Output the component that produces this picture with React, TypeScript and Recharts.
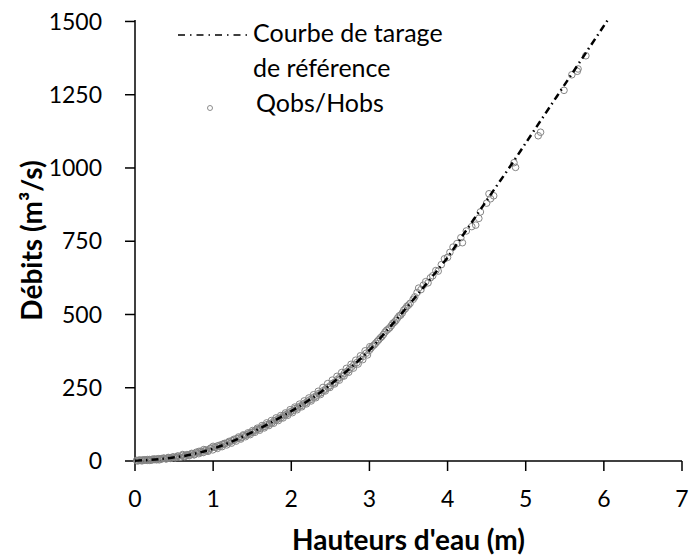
import { ComposedChart, Legend, Line, Scatter, XAxis, YAxis } from "recharts";

const xTicks = [0, 1, 2, 3, 4, 5, 6, 7];
const yTicks = [0, 250, 500, 750, 1000, 1250, 1500];

// reference rating curve (water height m -> discharge m3/s)
const curveH = [0, 0.2, 0.4, 0.6, 0.8, 1.0, 1.2, 1.4, 1.6, 1.8, 2.0, 2.2, 2.4, 2.6, 2.8, 3.0, 3.2, 3.4, 3.6, 3.8, 4.0, 4.2, 4.4, 4.6, 4.8, 5.0, 5.2, 5.4, 5.6, 5.8, 6.05];
const curveQ = [1, 4, 9, 16, 27, 42, 62, 86, 112, 140, 170, 203, 240, 282, 328, 378, 438, 500, 563, 628, 695, 772, 850, 928, 1005, 1085, 1165, 1245, 1325, 1405, 1505];

// gauged points Qobs/Hobs, [h, q]
const observations: [number, number][] = [
    [0.02, 2], [0.05, 3], [0.08, 1], [0.1, 4], [0.13, 3], [0.16, 5], [0.19, 2], [0.22, 6], [0.25, 5], [0.28, 7],
    [0.31, 4], [0.34, 8], [0.37, 9], [0.4, 7], [0.43, 11], [0.46, 10], [0.49, 13], [0.52, 12], [0.55, 16], [0.58, 13],
    [0.61, 22], [0.64, 17], [0.67, 19], [0.7, 21], [0.73, 24], [0.76, 22], [0.79, 27], [0.82, 33], [0.85, 29], [0.88, 39],
    [0.91, 35], [0.94, 37], [0.97, 44], [1.0, 50], [1.03, 46], [1.06, 52], [1.09, 50], [1.12, 57], [1.15, 59], [1.18, 62],
    [1.21, 64], [1.24, 69], [1.27, 71], [1.3, 76], [1.33, 78], [1.36, 80], [1.39, 86], [1.42, 88], [1.45, 92], [1.48, 96],
    [1.51, 99], [1.54, 105], [1.57, 108], [1.6, 111], [1.63, 116], [1.66, 118], [1.69, 124], [1.72, 127], [1.75, 130], [1.78, 137],
    [1.81, 140], [1.84, 145], [1.87, 148], [1.9, 155], [1.93, 158], [1.96, 163], [1.99, 168], [2.02, 172], [2.05, 179], [2.08, 181],
    [2.11, 187], [2.14, 190], [2.17, 197], [2.2, 201], [2.23, 208], [2.26, 211], [2.29, 218], [2.32, 222], [2.35, 230], [2.38, 233],
    [2.41, 240], [2.44, 246], [2.47, 252], [2.5, 257], [2.53, 265], [2.56, 269], [2.59, 278], [2.62, 285], [2.65, 290], [2.68, 299],
    [2.71, 305], [2.74, 312], [2.77, 320], [2.8, 328], [2.84, 336], [2.88, 348], [2.92, 357], [2.96, 368], [3.0, 378], [3.04, 392],
    [3.08, 402], [3.12, 414], [3.16, 425], [3.2, 440], [3.24, 450], [3.28, 462], [3.32, 474], [3.36, 488], [3.4, 498], [3.44, 515],
    [3.48, 528], [3.52, 538], [3.56, 552], [3.58, 560], [3.61, 575], [3.63, 590], [3.66, 585], [3.69, 600], [3.72, 612], [3.75, 608],
    [3.78, 625], [3.81, 632], [3.85, 650], [3.88, 648], [3.92, 670], [3.96, 690], [4.0, 695], [4.03, 712], [4.07, 730], [4.12, 742],
    [4.17, 762], [4.19, 745], [4.24, 785], [4.31, 800], [4.36, 805], [4.4, 828], [4.42, 850], [4.5, 880], [4.53, 912], [4.55, 895],
    [4.59, 905], [4.85, 1018], [4.87, 1002], [5.16, 1110], [5.19, 1122], [5.49, 1265], [5.59, 1318], [5.66, 1330], [5.67, 1338], [5.77, 1383],
    // second row, mostly just under the curve
    [0.035, 0], [0.095, 1], [0.155, 2], [0.215, 3], [0.275, 4], [0.335, 6], [0.395, 8], [0.455, 9], [0.515, 11], [0.575, 13],
    [0.635, 15], [0.695, 18], [0.755, 21], [0.815, 25], [0.875, 29], [0.935, 33], [0.995, 38], [1.055, 43], [1.115, 49], [1.175, 55],
    [1.235, 61], [1.295, 68], [1.355, 75], [1.415, 83], [1.475, 90], [1.535, 98], [1.595, 105], [1.655, 113], [1.715, 121], [1.775, 129],
    [1.835, 138], [1.895, 147], [1.955, 156], [2.015, 165], [2.075, 175], [2.135, 185], [2.195, 195], [2.255, 205], [2.315, 216], [2.375, 227],
    [2.435, 239], [2.495, 251], [2.555, 263], [2.615, 276], [2.675, 290], [2.735, 303], [2.795, 317], [2.855, 331], [2.915, 346], [2.975, 362],
    // third row, mostly just above the curve
    [0.065, 3], [0.125, 4], [0.185, 5], [0.245, 7], [0.305, 8], [0.365, 10], [0.425, 12], [0.485, 14], [0.545, 17], [0.605, 19],
    [0.665, 22], [0.725, 26], [0.785, 30], [0.845, 33], [0.905, 38], [0.965, 43], [1.025, 48], [1.085, 54], [1.145, 60], [1.205, 67],
    [1.265, 74], [1.325, 82], [1.385, 89], [1.445, 96], [1.505, 104], [1.565, 112], [1.625, 121], [1.685, 130], [1.745, 138], [1.805, 147],
    [1.865, 155], [1.925, 164], [1.985, 175], [2.045, 184], [2.105, 194], [2.165, 205], [2.225, 215], [2.285, 226], [2.345, 238], [2.405, 251],
    [2.465, 264], [2.525, 276], [2.585, 289], [2.645, 302], [2.705, 316], [2.765, 330], [2.825, 344], [2.885, 359], [2.945, 376], [3.005, 390],
    [3.02, 385], [3.06, 396], [3.1, 408], [3.14, 420], [3.18, 432], [3.22, 446], [3.26, 455], [3.3, 470], [3.34, 480], [3.38, 495],
    [3.42, 505], [3.46, 520], [3.5, 532],
];

const curveName = "Courbe de tarage de référence";
const obsName = "Qobs/Hobs";

const curveData = curveH.map((h, i) => ({ h, q: curveQ[i] }));
const obsData = observations.map(([h, q]) => ({ h, q }));

const FONT = "Lato, 'DejaVu Sans', sans-serif";
const DASH = "7 4 1.5 4";

const LegendBox = () => (
    <div style={{ fontFamily: FONT, fontSize: 25, color: "#000", lineHeight: "35px" }}>
        <div style={{ display: "flex" }}>
            <svg width={75} height={35} style={{ flex: "none" }}>
                <line x1={0} y1={20} x2={74} y2={20} stroke="#000" strokeWidth={1.5} strokeDasharray="7 5 1.5 5" />
            </svg>
            <div>
                Courbe de tarage
                <br />
                de référence
            </div>
        </div>
        <div style={{ display: "flex", height: 35 }}>
            <svg width={78} height={35} style={{ flex: "none" }}>
                <circle cx={32} cy={23} r={2.5} fill="none" stroke="#808080" strokeWidth={0.9} />
            </svg>
            <div>{obsName}</div>
        </div>
    </div>
);

const XTitle = ({ viewBox }: any) => (
    <text
        x={viewBox.x + viewBox.width / 2}
        y={viewBox.y + 89}
        textAnchor="middle"
        fontFamily={FONT}
        fontSize={28}
        fontWeight="bold"
        fill="#000"
    >
        Hauteurs d'eau (m)
    </text>
);

const YTitle = ({ viewBox }: any) => {
    const cx = viewBox.x + 42;
    const cy = viewBox.y + viewBox.height / 2;
    return (
        <text
            x={cx}
            y={cy}
            transform={`rotate(-90, ${cx}, ${cy})`}
            textAnchor="middle"
            fontFamily={FONT}
            fontSize={28}
            fontWeight="bold"
            fill="#000"
        >
            Débits (m³/s)
        </text>
    );
};

export default function App() {
    return (
        <div style={{ position: "absolute", left: 0, top: 0, width: 689, height: 559, background: "#fff" }}>
            <ComposedChart width={689} height={559} margin={{ top: 20, right: 7, bottom: 0, left: 0 }}>
                <XAxis
                    type="number"
                    dataKey="h"
                    domain={[0, 7]}
                    ticks={xTicks}
                    interval={0}
                    height={98}
                    stroke="#000"
                    strokeWidth={1.5}
                    tickSize={10}
                    tickMargin={20}
                    tick={{ fill: "#000", fontSize: 23, fontFamily: FONT }}
                    label={<XTitle />}
                />
                <YAxis
                    type="number"
                    dataKey="q"
                    domain={[0, 1500]}
                    ticks={yTicks}
                    interval={0}
                    width={135}
                    stroke="#000"
                    strokeWidth={1.5}
                    tickSize={10}
                    tickMargin={23}
                    tick={{ fill: "#000", fontSize: 23, fontFamily: FONT }}
                    label={<YTitle />}
                />
                <Legend
                    layout="horizontal"
                    verticalAlign="middle"
                    align="center"
                    content={() => <LegendBox />}
                    wrapperStyle={{ left: 178, top: 15, width: "auto" }}
                />
                <Scatter
                    name={obsName}
                    data={obsData}
                    isAnimationActive={false}
                    shape={(p: any) => (
                        <circle cx={p.cx} cy={p.cy} r={3.3} fill="none" stroke="#858585" strokeWidth={1} />
                    )}
                />
                <Line
                    name={curveName}
                    data={curveData}
                    dataKey="q"
                    type="monotone"
                    stroke="#000"
                    strokeWidth={2.5}
                    strokeDasharray={DASH}
                    dot={false}
                    activeDot={false}
                    isAnimationActive={false}
                    zIndex={700}
                />
            </ComposedChart>
        </div>
    );
}
